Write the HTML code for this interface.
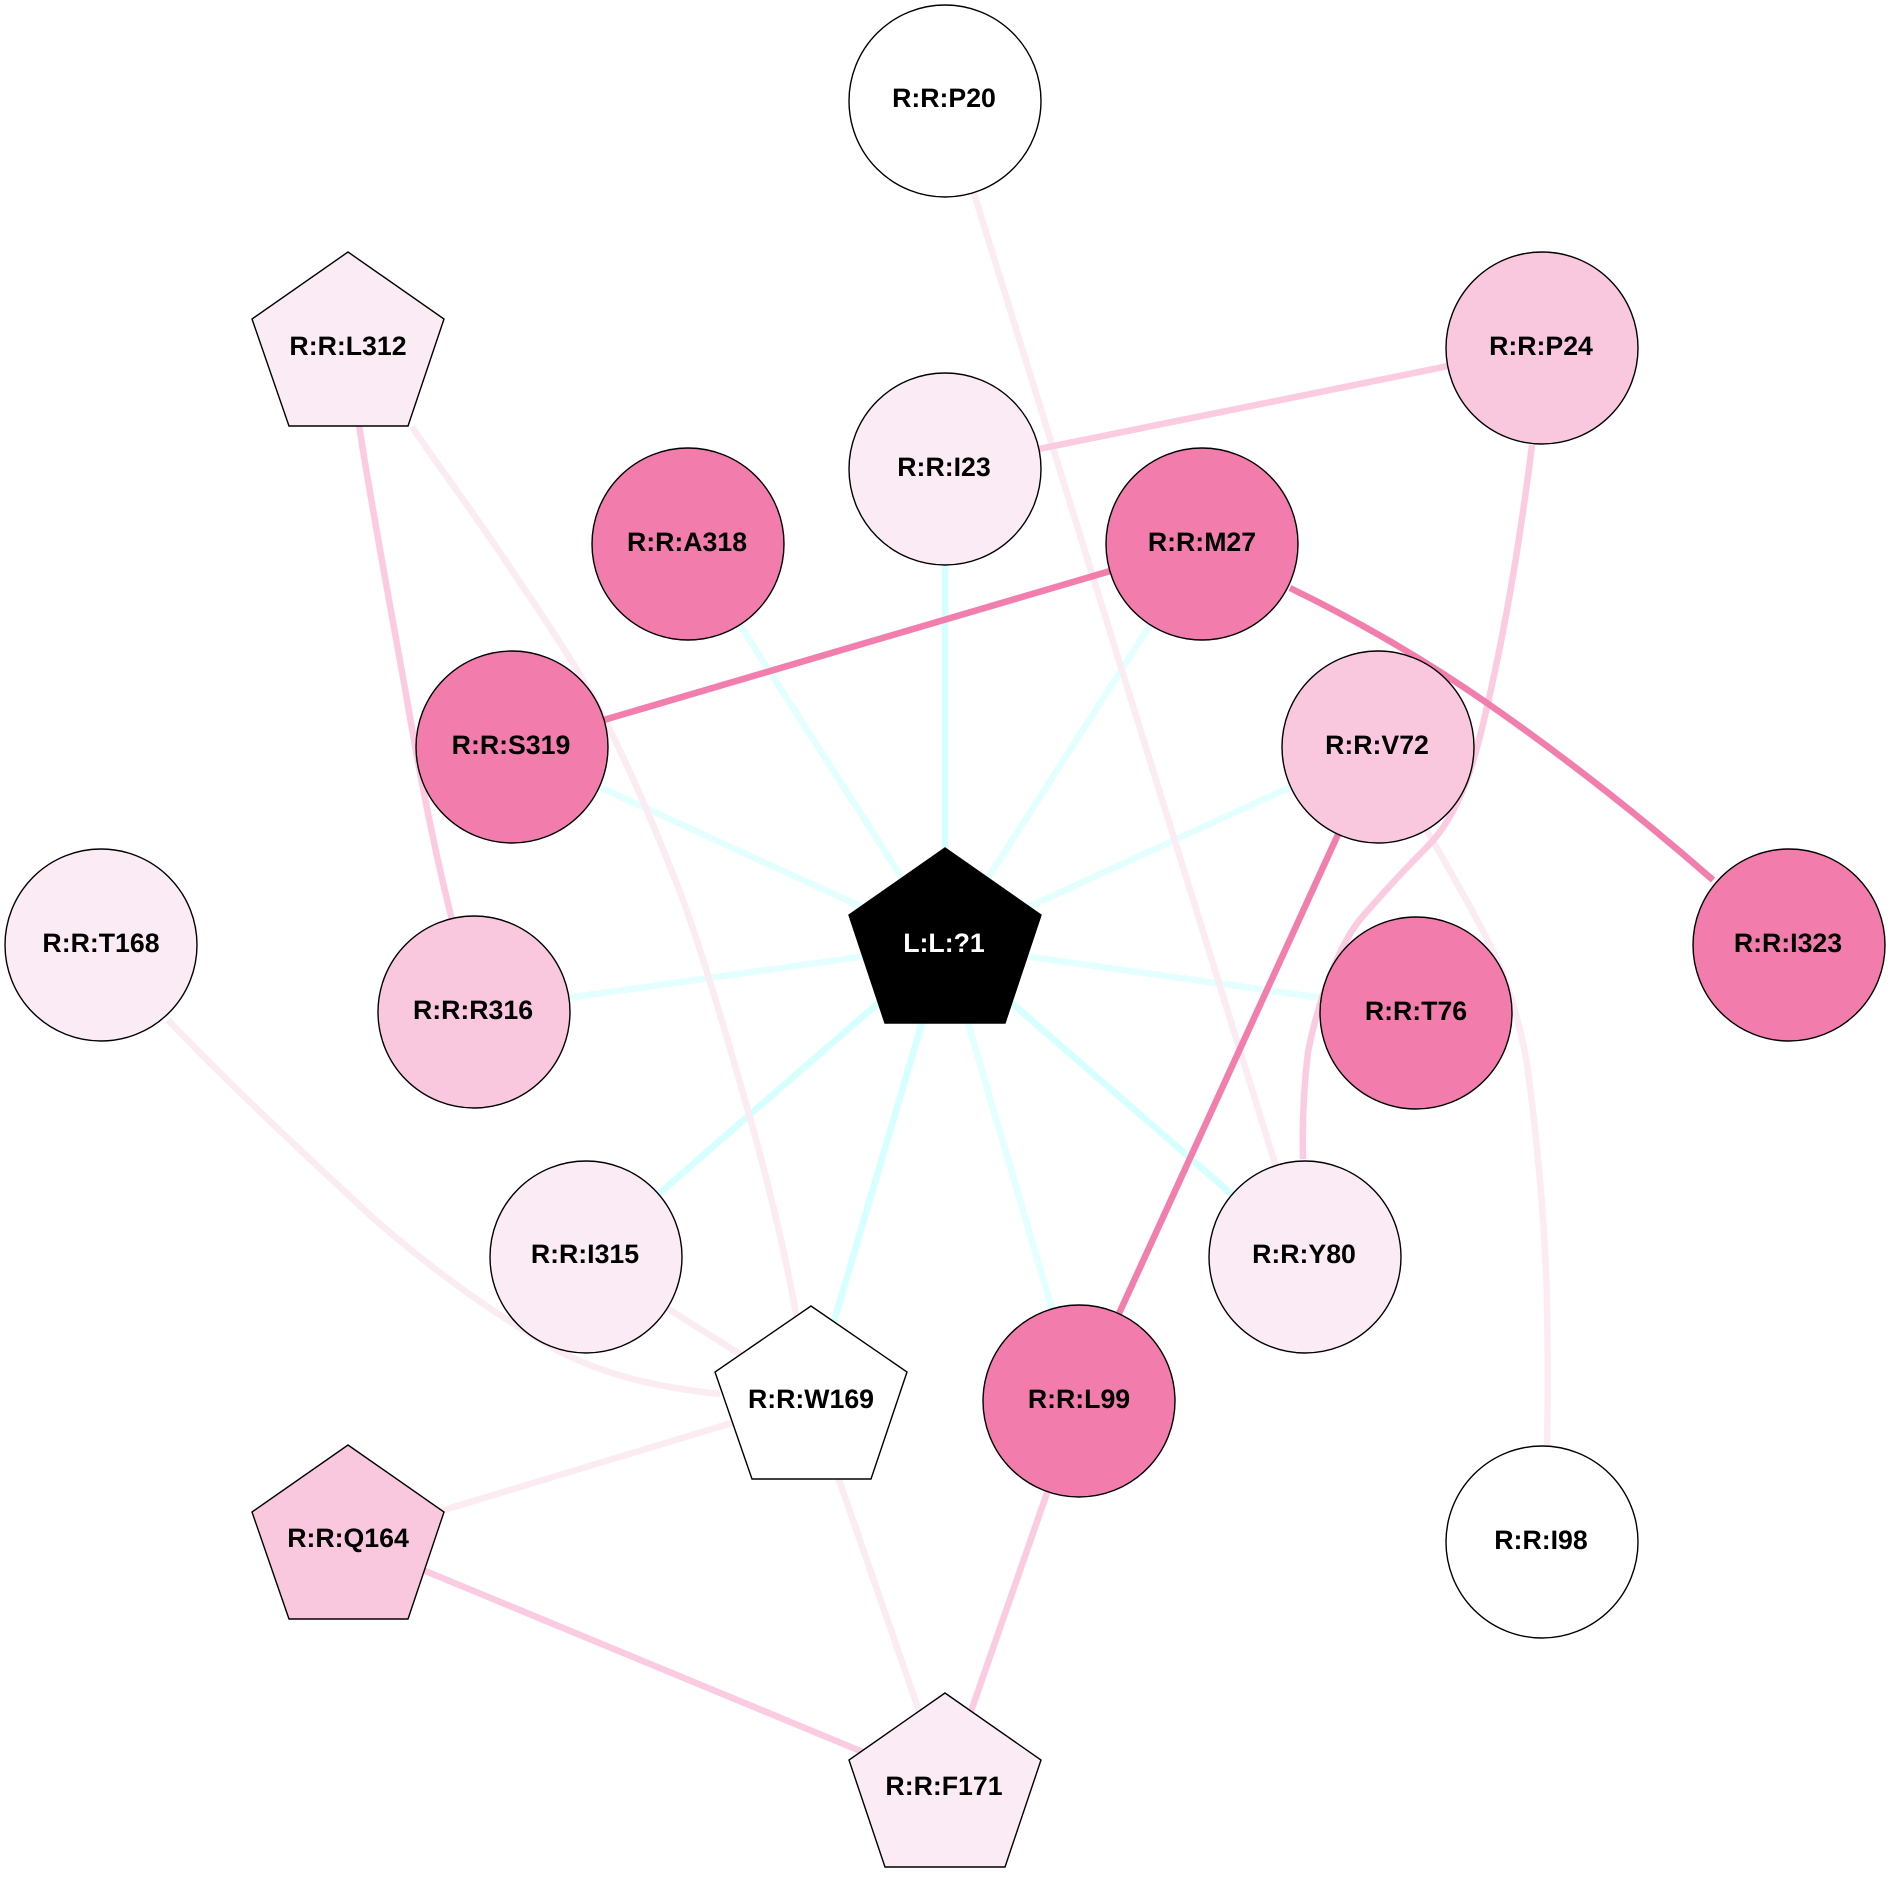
<!DOCTYPE html>
<html><head><meta charset="utf-8"><style>html,body{margin:0;padding:0;background:#fff}svg{display:block}text{font-family:"Liberation Sans",sans-serif;font-weight:bold;font-size:26.7px;text-anchor:middle;fill:#000;text-rendering:geometricPrecision}</style></head><body>
<svg width="1890" height="1890" viewBox="0 0 1890 1890" xmlns="http://www.w3.org/2000/svg">
<g fill="none" stroke-width="6.5">
<g stroke="#e4ffff">
<path d="M945 945L688 544"/><path d="M945 945L1202 544"/><path d="M945 945L512 747"/><path d="M945 945L1378 747"/><path d="M945 945L474 1011"/><path d="M945 945L1416 1011"/><path d="M945 945L1079 1401"/>
</g>
<g stroke="#d6ffff">
<path d="M945 945L945 468"/><path d="M945 945L586 1257"/><path d="M945 945L1304 1257"/><path d="M945 945L811 1399"/>
</g>
<g stroke="#fbebf3">
<path d="M945 100L1304 1257"/>
<path d="M412 427C445 475 475 515 507 563C530 598 560 640 587 687C620 745 650 815 680 892C700 945 725 1030 747 1107C765 1170 785 1250 797 1320"/>
<path d="M168 1020C230 1085 300 1150 372 1217C430 1268 490 1312 557 1350C610 1378 665 1388 720 1394"/>
<path d="M586 1257L811 1399"/>
<path d="M811 1399L348 1539"/>
<path d="M811 1399L945 1786"/>
<path d="M1400 785C1430 835 1470 905 1490 945C1510 985 1521 1030 1527 1064C1536 1130 1545 1220 1547 1300C1548 1350 1548 1400 1547 1450"/>
</g>
<g stroke="#fbcce1">
<path d="M945 468L1542 347"/>
<path d="M359 425C372 510 392 615 407 700C418 765 432 840 452 920"/>
<path d="M1532 445C1521 533 1507 621 1487 707C1476 755 1462 812 1427 847C1405 869 1383 893 1363 916C1340 942 1318 1000 1308 1052C1304 1085 1302 1120 1303 1159"/>
<path d="M348 1539L945 1786"/>
<path d="M1079 1401L945 1786"/>
</g>
<g stroke="#f27eae">
<path d="M512 747L1202 544"/>
<path d="M1290 588C1358 621 1425 660 1487 703C1566 758 1641 817 1713 880"/>
<path d="M1378 747L1079 1401"/>
</g>
</g>
<g stroke="#000" stroke-width="1.4">
<circle cx="945" cy="101" r="96" fill="#fff"/>
<circle cx="1542" cy="348" r="96" fill="#f9c8de"/>
<polygon points="348,252 444,319 408,426 289,426 252,319" fill="#fbebf4"/>
<circle cx="945" cy="469" r="96" fill="#fbebf4"/>
<circle cx="688" cy="544" r="96" fill="#f27cac"/>
<circle cx="1202" cy="544" r="96" fill="#f27cac"/>
<circle cx="512" cy="747" r="96" fill="#f27cac"/>
<circle cx="1378" cy="747" r="96" fill="#f9c8de"/>
<circle cx="101" cy="945" r="96" fill="#fbebf4"/>
<polygon points="945,848 1041,915 1005,1023 885,1023 849,915" fill="#000"/>
<circle cx="1789" cy="945" r="96" fill="#f27cac"/>
<circle cx="474" cy="1012" r="96" fill="#f9c8de"/>
<circle cx="1416" cy="1013" r="96" fill="#f27cac"/>
<circle cx="586" cy="1257" r="96" fill="#fbebf4"/>
<circle cx="1305" cy="1257" r="96" fill="#fbebf4"/>
<polygon points="811,1306 907,1372 871,1479 752,1479 715,1372" fill="#fff"/>
<circle cx="1079" cy="1401" r="96" fill="#f27cac"/>
<polygon points="348,1445 444,1512 408,1619 289,1619 252,1512" fill="#f9c8de"/>
<circle cx="1542" cy="1542" r="96" fill="#fff"/>
<polygon points="945,1693 1041,1760 1005,1867 885,1867 849,1760" fill="#fbebf4"/>
</g>
<text x="944" y="107">R:R:P20</text>
<text x="1541" y="355">R:R:P24</text>
<text x="348" y="355">R:R:L312</text>
<text x="944" y="476">R:R:I23</text>
<text x="687" y="551">R:R:A318</text>
<text x="1202" y="551">R:R:M27</text>
<text x="511" y="754">R:R:S319</text>
<text x="1377" y="754">R:R:V72</text>
<text x="101" y="952">R:R:T168</text>
<text x="944" y="952" style="fill:#fff">L:L:?1</text>
<text x="1788" y="952">R:R:I323</text>
<text x="473" y="1019">R:R:R316</text>
<text x="1416" y="1020">R:R:T76</text>
<text x="585" y="1263">R:R:I315</text>
<text x="1304" y="1263">R:R:Y80</text>
<text x="811" y="1408">R:R:W169</text>
<text x="1079" y="1408">R:R:L99</text>
<text x="348" y="1547">R:R:Q164</text>
<text x="1541" y="1549">R:R:I98</text>
<text x="944" y="1795">R:R:F171</text>
</svg>
</body></html>
